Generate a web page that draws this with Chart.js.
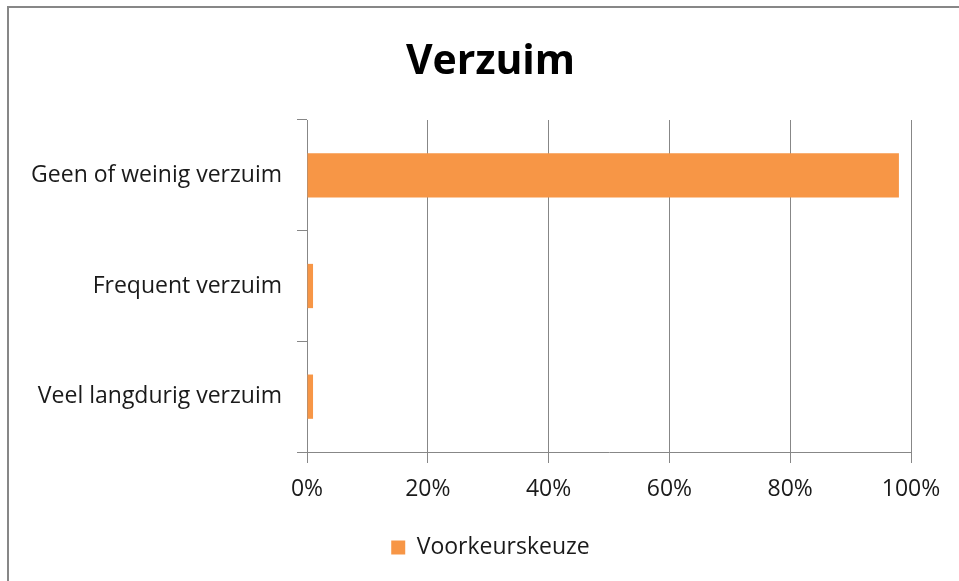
<!DOCTYPE html>
<html lang="nl">
<head>
    <meta charset="UTF-8">
    <title>Verzuim</title>
    <script src="https://cdn.jsdelivr.net/npm/chart.js@4.4.0/dist/chart.umd.min.js"></script>
    <style>
        html, body { margin: 0; padding: 0; background: #fff; }
        #wrap { position: relative; width: 959px; height: 581px; overflow: hidden; }
        #frame {
            position: absolute; left: 7px; top: 6px;
            width: 1100px; height: 1100px;
            border: 2px solid #878787;
            box-sizing: border-box;
        }
        #chart { position: absolute; left: 0; top: 0; }
    </style>
</head>
<body>
<div id="wrap">
    <div id="frame"></div>
    <canvas id="chart" width="959" height="581"></canvas>
</div>

<script>
    // data
    const categorieen = ['Geen of weinig verzuim', 'Frequent verzuim', 'Veel langdurig verzuim'];
    const voorkeurskeuze = [98, 1, 1];
    const xTicks = [0, 20, 40, 60, 80, 100];

    const grijs = '#878787';
    const font = 'Open Sans';
    const padLinks = 22;

    new Chart(document.getElementById('chart'), {
        type: 'bar',
        data: {
            labels: categorieen,
            datasets: [{
                label: 'Voorkeurskeuze',
                data: voorkeurskeuze,
                backgroundColor: '#F79646',
                borderWidth: 0,
                barPercentage: 0.4,
                categoryPercentage: 1
            }]
        },
        options: {
            indexAxis: 'y',
            responsive: false,
            animation: false,
            layout: { padding: { left: padLinks, right: 0, top: 0, bottom: 12 } },
            plugins: {
                title: {
                    display: true,
                    text: 'Verzuim',
                    color: '#000',
                    font: { family: font, size: 41, weight: 'bold', lineHeight: 1.2 },
                    padding: { top: 37.4, bottom: 33.4 }
                },
                legend: {
                    position: 'bottom',
                    labels: {
                        color: '#1a1a1a',
                        font: { family: font, size: 23 },
                        boxWidth: 14,
                        boxHeight: 14,
                        padding: 9
                    }
                },
                tooltip: { enabled: false }
            },
            scales: {
                x: {
                    min: 0,
                    max: 100,
                    afterBuildTicks: s => { s.ticks = xTicks.map(v => ({ value: v })); },
                    afterFit: s => { s.height = 75; },
                    grid: { color: grijs, lineWidth: 1, tickLength: 11, tickColor: grijs },
                    border: { color: grijs, width: 1 },
                    ticks: {
                        color: '#1a1a1a',
                        font: { family: font, size: 23 },
                        padding: 13,
                        maxRotation: 0,
                        callback: v => v + '%'
                    }
                },
                y: {
                    afterFit: s => { s.width = 307 - padLinks; },
                    grid: { drawOnChartArea: false, drawTicks: true, tickLength: 10, tickColor: grijs, offset: true },
                    border: { color: grijs, width: 1 },
                    ticks: {
                        color: '#1a1a1a',
                        font: { family: font, size: 23 },
                        padding: 15
                    }
                },
                // lege as rechts, houdt ruimte vrij naast het plotvlak
                rechts: {
                    type: 'linear',
                    position: 'right',
                    afterFit: s => { s.width = 48; },
                    grid: { display: false },
                    border: { display: false },
                    ticks: { display: false }
                }
            }
        }
    });
</script>
</body>
</html>
